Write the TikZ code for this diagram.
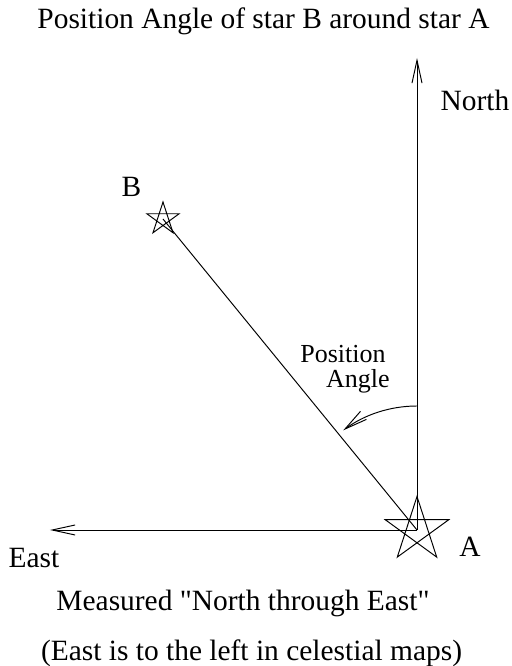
\documentclass[tikz,border=0pt]{standalone}
\usepackage{fontspec}
\setmainfont{Liberation Serif}
\usetikzlibrary{arrows.meta}

\begin{document}
\begin{tikzpicture}[
    line width=0.55pt,
    every node/.style={font=\fontsize{16.75}{20}\selectfont},
    small/.style={font=\fontsize{14.8}{18}\selectfont},
    arr/.style={-{Straight Barb[length=13pt,width=5.7pt]}}
  ]
  \useasboundingbox (-8.34,-2.72) rectangle (1.88,10.6);
  % Nodes
  \coordinate (A) at (0,0);
  \coordinate (B) at (-5.08,6.22);
  \coordinate (northtip) at (0,9.44);
  \coordinate (easttip) at (-7.34,0);
  \coordinate (arcstart) at (0,2.48);
  \node[anchor=base] (title) at (-3.07,10.02) {Position Angle of star B around star A};
  \node[anchor=base] (north) at (1.16,8.38) {North};
  \node[anchor=base] (blabel) at (-5.71,6.66) {B};
  \node[anchor=base] (alabel) at (1.06,-0.54) {A};
  \node[anchor=base] (east) at (-7.66,-0.76) {East};
  \node[small, anchor=base east] (pos) at (-0.5,3.34) {Position};
  \node[small, anchor=base east] (angle) at (-0.42,2.84) {Angle};
  \node[anchor=base] (measured) at (-3.48,-1.62) {Measured \textquotedbl North through East\textquotedbl};
  \node[anchor=base] (note) at (-3.31,-2.6) {(East is to the left in celestial maps)};
  % Stars
  \draw[shift={(A)}] (90:0.67) -- (234:0.67) -- (18:0.67) -- (162:0.67) -- (306:0.67) -- cycle;
  \draw[shift={(B)}] (90:0.34) -- (234:0.34) -- (18:0.34) -- (162:0.34) -- (306:0.34) -- cycle;
  % Edges
  \draw[arr] (A) -- (northtip);
  \draw[arr] (A) -- (easttip);
  \draw (B) -- (A);
  \draw[arr] (arcstart) arc[start angle=90, end angle=126.5, radius=2.48];
\end{tikzpicture}
\end{document}
